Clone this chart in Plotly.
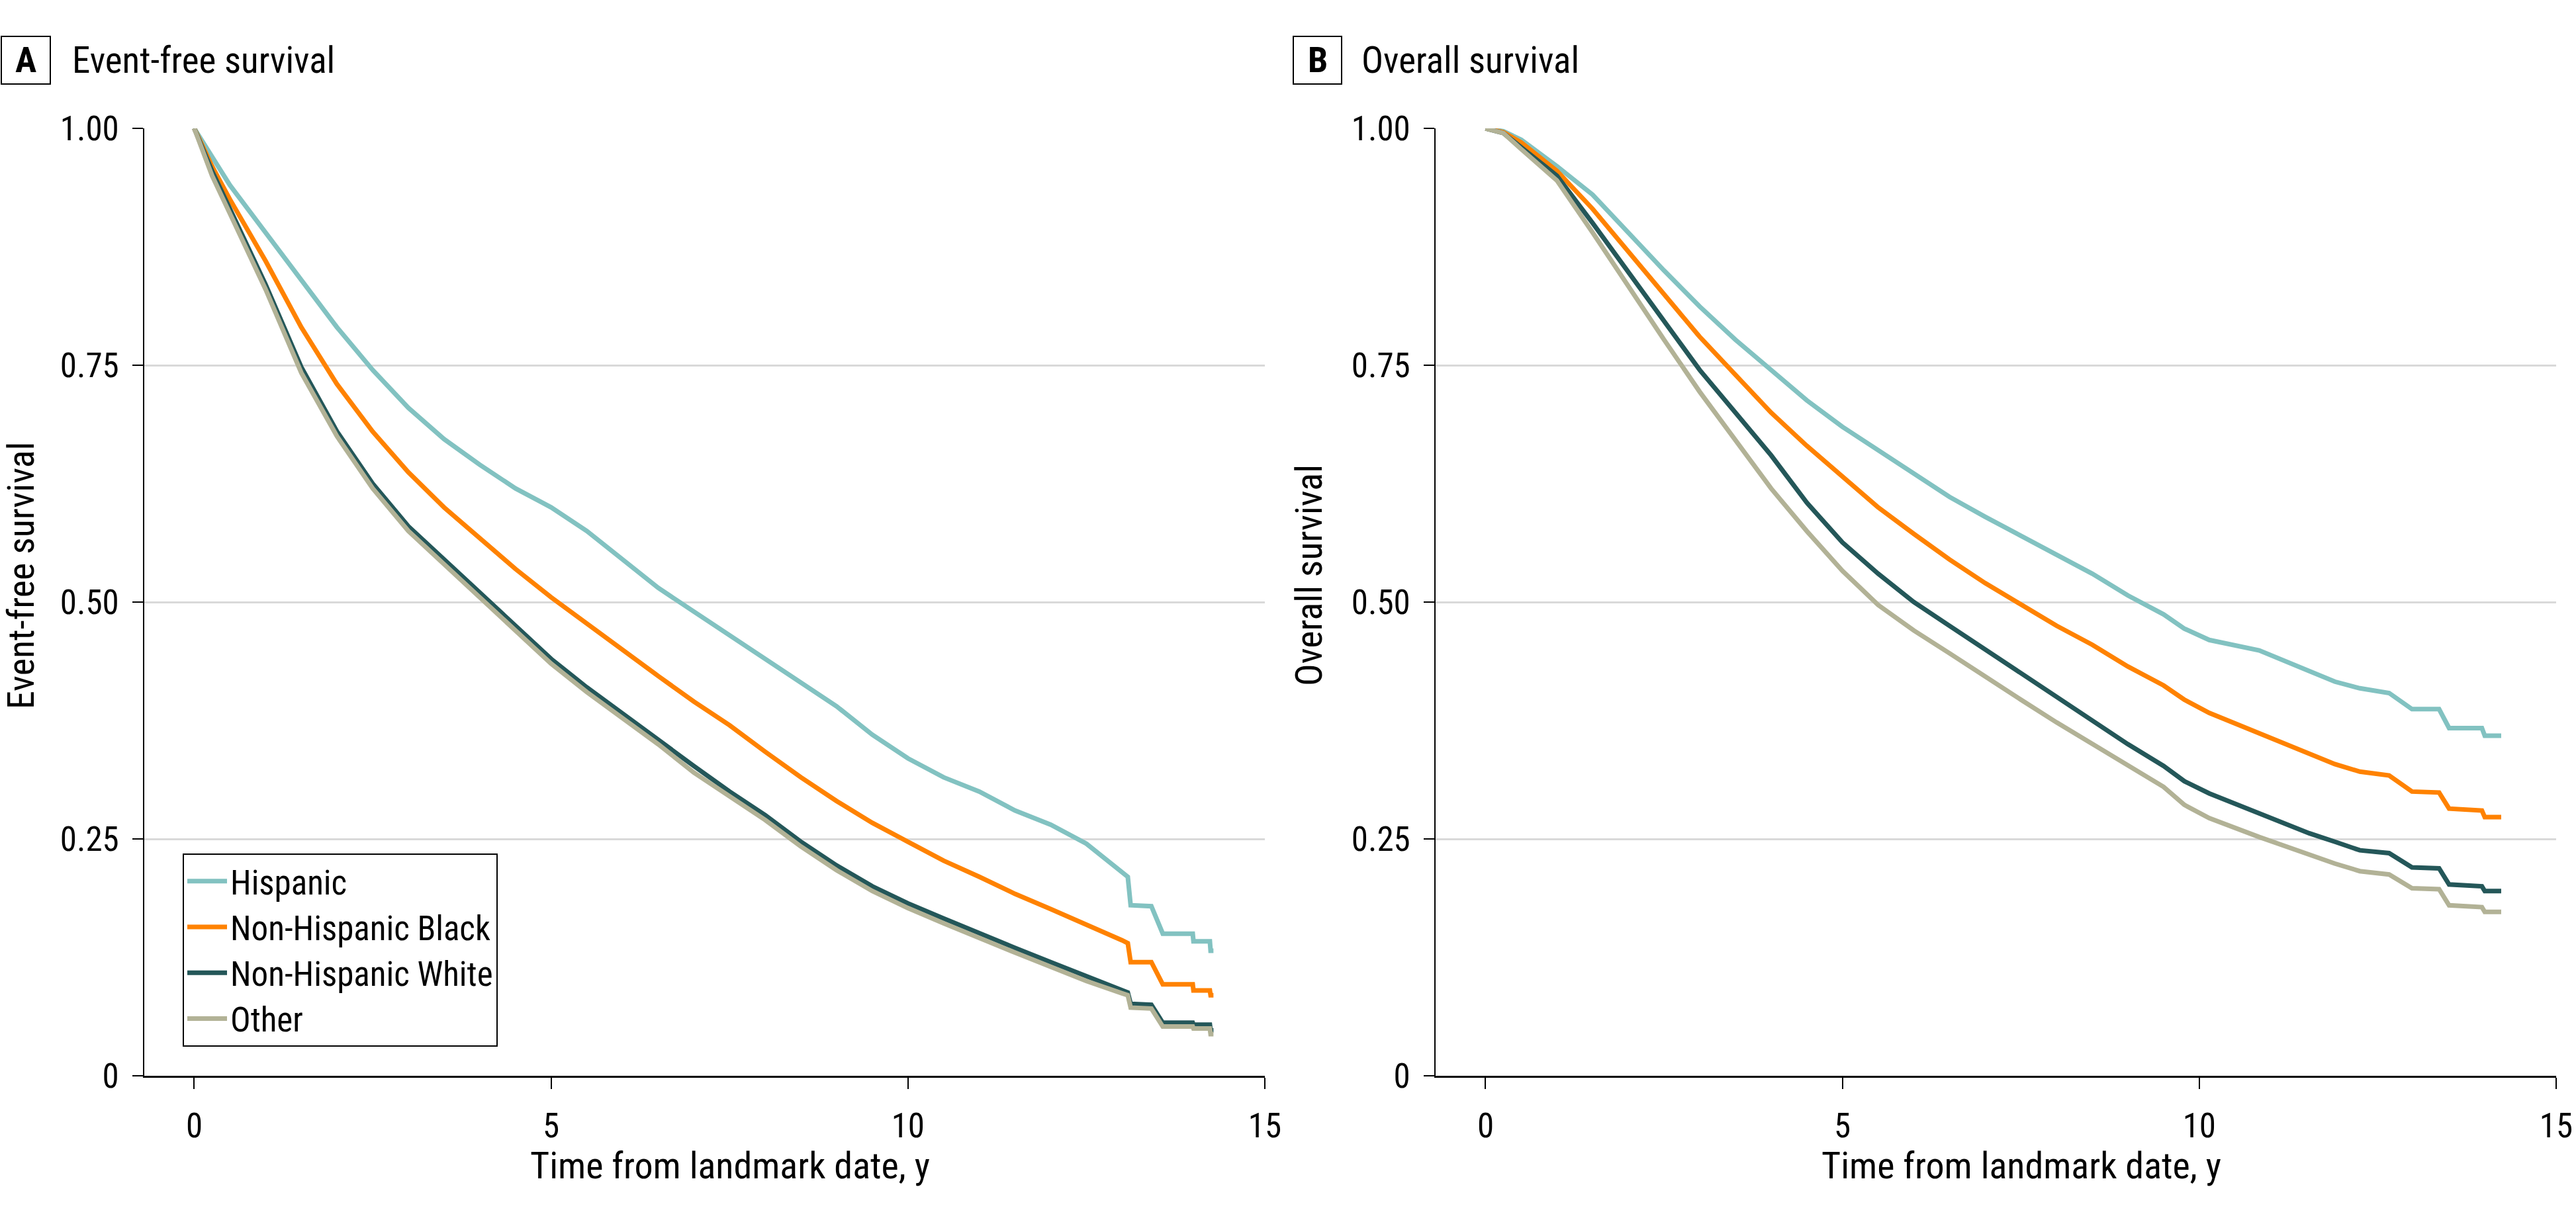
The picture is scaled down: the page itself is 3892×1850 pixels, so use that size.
import plotly.graph_objects as go

# ---------------- data ----------------
groups = ["Hispanic", "Non-Hispanic Black", "Non-Hispanic White", "Other"]
colors = ["#82c2c1", "#ff8200", "#245759", "#b2b296"]

# Panel A: event-free survival
efs_time = [0, 0.25, 0.5, 1, 1.5, 2, 2.5, 3, 3.5, 4, 4.5, 5, 5.5, 6, 6.5, 7, 7.5, 8, 8.5, 9,
            9.5, 10, 10.5, 11, 11.5, 12, 12.5, 13.0, 13.08, 13.12, 13.41, 13.57, 13.99, 14.0,
            14.23, 14.24, 14.28]
efs_hispanic = [1.0, 0.97, 0.94, 0.89, 0.84, 0.79, 0.745, 0.705, 0.672, 0.645, 0.62, 0.60, 0.575,
                0.545, 0.515, 0.49, 0.465, 0.44, 0.415, 0.39, 0.36, 0.335, 0.315, 0.30, 0.28,
                0.265, 0.245, 0.215, 0.21, 0.18, 0.179, 0.150, 0.150, 0.142, 0.142, 0.132, 0.132]
efs_black = [1.0, 0.96, 0.925, 0.86, 0.79, 0.73, 0.68, 0.637, 0.60, 0.567, 0.535, 0.505, 0.477,
             0.45, 0.422, 0.395, 0.37, 0.342, 0.315, 0.29, 0.267, 0.247, 0.227, 0.21, 0.192,
             0.176, 0.16, 0.143, 0.14, 0.12, 0.12, 0.0965, 0.0965, 0.09, 0.09, 0.085, 0.085]
efs_white = [1.0, 0.955, 0.915, 0.835, 0.748, 0.68, 0.625, 0.58, 0.545, 0.51, 0.475, 0.44, 0.41,
             0.382, 0.355, 0.327, 0.30, 0.275, 0.247, 0.222, 0.20, 0.182, 0.166, 0.15, 0.135,
             0.12, 0.105, 0.09, 0.088, 0.076, 0.075, 0.056, 0.056, 0.054, 0.054, 0.048, 0.048]
efs_other = [1.0, 0.95, 0.91, 0.83, 0.742, 0.675, 0.62, 0.575, 0.54, 0.505, 0.47, 0.435, 0.405,
             0.377, 0.35, 0.32, 0.295, 0.27, 0.242, 0.217, 0.195, 0.177, 0.161, 0.145, 0.13,
             0.115, 0.10, 0.087, 0.085, 0.072, 0.071, 0.052, 0.052, 0.050, 0.050, 0.044, 0.044]

# Panel B: overall survival
os_time = [0, 0.25, 0.5, 1, 1.5, 2, 2.5, 3, 3.5, 4, 4.5, 5, 5.5, 6, 6.5, 7, 7.5, 8, 8.5, 9, 9.5,
           9.79, 10.14, 10.84, 11.54, 11.9, 12.25, 12.66, 12.98, 13.36, 13.5, 13.96, 14.0, 14.23]
os_hispanic = [1.0, 0.997, 0.988, 0.96, 0.93, 0.89, 0.85, 0.812, 0.777, 0.745, 0.713, 0.685,
               0.66, 0.635, 0.611, 0.59, 0.57, 0.55, 0.53, 0.507, 0.487, 0.472, 0.46, 0.449,
               0.427, 0.416, 0.409, 0.404, 0.387, 0.387, 0.367, 0.367, 0.359, 0.359]
os_black = [1.0, 0.996, 0.985, 0.955, 0.915, 0.87, 0.825, 0.78, 0.74, 0.70, 0.665, 0.632, 0.60,
            0.572, 0.545, 0.52, 0.497, 0.475, 0.455, 0.432, 0.412, 0.397, 0.383, 0.362, 0.341,
            0.329, 0.321, 0.317, 0.300, 0.299, 0.282, 0.280, 0.273, 0.273]
os_white = [1.0, 0.995, 0.98, 0.95, 0.90, 0.848, 0.795, 0.745, 0.70, 0.655, 0.605, 0.563, 0.53,
            0.50, 0.475, 0.45, 0.425, 0.40, 0.375, 0.35, 0.327, 0.311, 0.298, 0.277, 0.256,
            0.247, 0.238, 0.235, 0.220, 0.219, 0.202, 0.200, 0.195, 0.195]
os_other = [1.0, 0.995, 0.978, 0.945, 0.89, 0.833, 0.777, 0.722, 0.67, 0.62, 0.575, 0.533,
            0.497, 0.47, 0.446, 0.421, 0.397, 0.373, 0.35, 0.328, 0.305, 0.286, 0.272, 0.252,
            0.233, 0.224, 0.216, 0.2125, 0.198, 0.197, 0.18, 0.178, 0.173, 0.173]

x_ticks = [0, 5, 10, 15]
y_ticks = [0, 0.25, 0.5, 0.75, 1.0]
y_tick_text = ["0", "0.25", "0.50", "0.75", "1.00"]

panel_letters = ["A", "B"]
panel_titles = ["Event-free survival", "Overall survival"]
y_titles = ["Event-free survival", "Overall survival"]
x_title = "Time from landmark date, y"

# ---------------- figure ----------------
W, H = 3892, 1850
FONT = "Liberation Sans Narrow, Roboto Condensed, Roboto, Arial Narrow, sans-serif"

fig = go.Figure()

efs = [efs_hispanic, efs_black, efs_white, efs_other]
oss = [os_hispanic, os_black, os_white, os_other]

for i, g in enumerate(groups):
    fig.add_trace(go.Scatter(x=efs_time, y=efs[i], mode="lines", name=g,
                             line=dict(color=colors[i], width=7),
                             xaxis="x", yaxis="y", showlegend=True, legendgroup=g))
for i, g in enumerate(groups):
    fig.add_trace(go.Scatter(x=os_time, y=oss[i], mode="lines", name=g,
                             line=dict(color=colors[i], width=7),
                             xaxis="x2", yaxis="y2", showlegend=False, legendgroup=g))

def px_x(p):
    return p / W

def px_y(p):
    return 1 - p / H

axis_common = dict(showline=True, linecolor="black", ticks="outside", tickcolor="black",
                   zeroline=False, automargin=False,
                   tickfont=dict(family=FONT, size=51, color="black"))

xa = dict(range=[-0.7, 15], tickvals=x_ticks, showgrid=False, linewidth=3,
          ticklen=17, tickwidth=2, ticklabelstandoff=12, **axis_common)
ya = dict(range=[0, 1.0], tickvals=y_ticks, ticktext=y_tick_text, showgrid=True,
          gridcolor="#d9d9d9", gridwidth=3, linewidth=2, ticklen=16, tickwidth=2,
          ticklabelstandoff=10, **axis_common)

fig.update_layout(
    width=W, height=H,
    margin=dict(l=0, r=0, t=0, b=0, autoexpand=False),
    paper_bgcolor="white", plot_bgcolor="white",
    font=dict(family=FONT, size=48, color="black"),
    xaxis=dict(domain=[px_x(218), px_x(1911)], anchor="y", **xa),
    yaxis=dict(domain=[px_y(1626), px_y(194)], anchor="x", **ya),
    xaxis2=dict(domain=[px_x(2169), px_x(3862)], anchor="y2", **xa),
    yaxis2=dict(domain=[px_y(1626), px_y(194)], anchor="x2", **ya),
    legend=dict(x=px_x(276), y=px_y(1582), xanchor="left", yanchor="bottom",
                bgcolor="white", bordercolor="black", borderwidth=2,
                font=dict(family=FONT, size=51, color="black"),
                itemwidth=60, tracegroupgap=0, traceorder="normal"),
    showlegend=True,
)

shapes = []
annotations = []
box_x = [(2, 76), (1954, 2027)]
title_x = [107, 2055]
ytitle_x = [32, 1978]
plot_x = [(294, 1911), (2245, 3862)]
for k in range(2):
    x0, x1 = box_x[k]
    shapes.append(dict(type="rect", xref="paper", yref="paper",
                       x0=px_x(x0), x1=px_x(x1), y0=px_y(127), y1=px_y(55),
                       line=dict(color="black", width=2), fillcolor="white"))
    annotations.append(dict(text="<b>%s</b>" % panel_letters[k], xref="paper", yref="paper",
                            x=px_x((x0 + x1) / 2), y=px_y(91), xanchor="center",
                            yanchor="middle", showarrow=False,
                            font=dict(family=FONT, size=54, color="black")))
    annotations.append(dict(text=panel_titles[k], xref="paper", yref="paper",
                            x=px_x(title_x[k]), y=px_y(91), xanchor="left", yanchor="middle",
                            showarrow=False, font=dict(family=FONT, size=55, color="black")))
    annotations.append(dict(text=y_titles[k], xref="paper", yref="paper",
                            x=px_x(ytitle_x[k]), y=px_y(870), xanchor="center",
                            yanchor="middle", textangle=-90, showarrow=False,
                            font=dict(family=FONT, size=56, color="black")))
    annotations.append(dict(text=x_title, xref="paper", yref="paper",
                            x=px_x((plot_x[k][0] + plot_x[k][1]) / 2), y=px_y(1762),
                            xanchor="center", yanchor="middle", showarrow=False,
                            font=dict(family=FONT, size=56, color="black")))

fig.update_layout(shapes=shapes, annotations=annotations)

fig.write_html("out.html", config={"displayModeBar": False},
               post_script="document.body.style.margin='0px';")
